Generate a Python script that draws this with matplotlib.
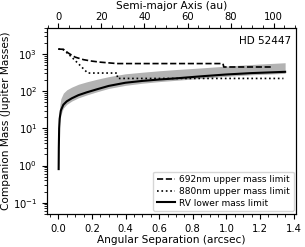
import numpy as np
import matplotlib
matplotlib.use("Agg")
import matplotlib.pyplot as plt

# star distance (pc) -> au per arcsec for the top axis
dist_pc = 78.0

# 692nm upper mass limit
sep_692 = [0.0, 0.03, 0.06, 0.10, 0.15, 0.20, 0.25, 0.35, 0.98, 0.985, 1.27]
mass_692 = [1350, 1330, 1050, 820, 700, 640, 600, 550, 550, 445, 445]

# 880nm upper mass limit
sep_880 = [0.0, 0.03, 0.075, 0.125, 0.175, 0.35, 0.352, 1.34]
mass_880 = [1350, 1300, 860, 515, 306, 306, 219, 219]

# RV lower mass limit and its spread
sep_rv = [0.002, 0.003, 0.005, 0.008, 0.015, 0.03, 0.05, 0.08, 0.12, 0.17,
          0.23, 0.30, 0.40, 0.50, 0.60, 0.70, 0.85, 1.00, 1.15, 1.35]
mass_rv = [0.8, 3, 10, 18, 30, 43, 53, 64, 78, 93,
           112, 138, 168, 188, 205, 220, 250, 280, 305, 330]
mass_rv_lo = [0.8, 2.5, 8, 14, 23, 35, 44, 54, 66, 79,
              96, 118, 143, 163, 180, 195, 220, 250, 275, 300]
mass_rv_hi = [0.8, 7, 22, 38, 62, 88, 108, 128, 153, 178,
              208, 245, 292, 322, 352, 380, 420, 470, 520, 580]

fig = plt.figure(figsize=(3.05, 2.47), dpi=100)
ax = fig.add_axes([0.154, 0.134, 0.818, 0.753])

ax.fill_between(sep_rv, mass_rv_lo, mass_rv_hi, color='0.7', lw=0)
ax.plot(sep_692, mass_692, 'k--', lw=1.2, label='692nm upper mass limit')
ax.plot(sep_880, mass_880, 'k:', lw=1.2, label='880nm upper mass limit')
ax.plot(sep_rv, mass_rv, 'k-', lw=1.5, label='RV lower mass limit')

ax.set_yscale('log')
ax.set_ylim(5e-2, 5e3)
ax.set_xlim(-0.0675, 1.4175)
ax.minorticks_on()
ax.tick_params(labelsize=7.2)
ax.set_xlabel('Angular Separation (arcsec)', fontsize=7.6, labelpad=1)
ax.set_ylabel('Companion Mass (Jupiter Masses)', fontsize=7.6, labelpad=1)
ax.text(0.98, 0.955, 'HD 52447', transform=ax.transAxes, ha='right', va='top', fontsize=7.5)
ax.legend(loc='lower right', fontsize=6.5, handlelength=2.0, borderpad=0.4,
          labelspacing=0.3, handletextpad=0.5, borderaxespad=0.3)

top = ax.twiny()
x0, x1 = ax.get_xlim()
top.set_xlim(x0 * dist_pc, x1 * dist_pc)
top.set_xticks([0, 20, 40, 60, 80, 100])
top.minorticks_on()
top.tick_params(labelsize=7.2, pad=1)
top.set_xlabel('Semi-major Axis (au)', fontsize=7.6, labelpad=2)

plt.savefig('out.png', dpi=100)
